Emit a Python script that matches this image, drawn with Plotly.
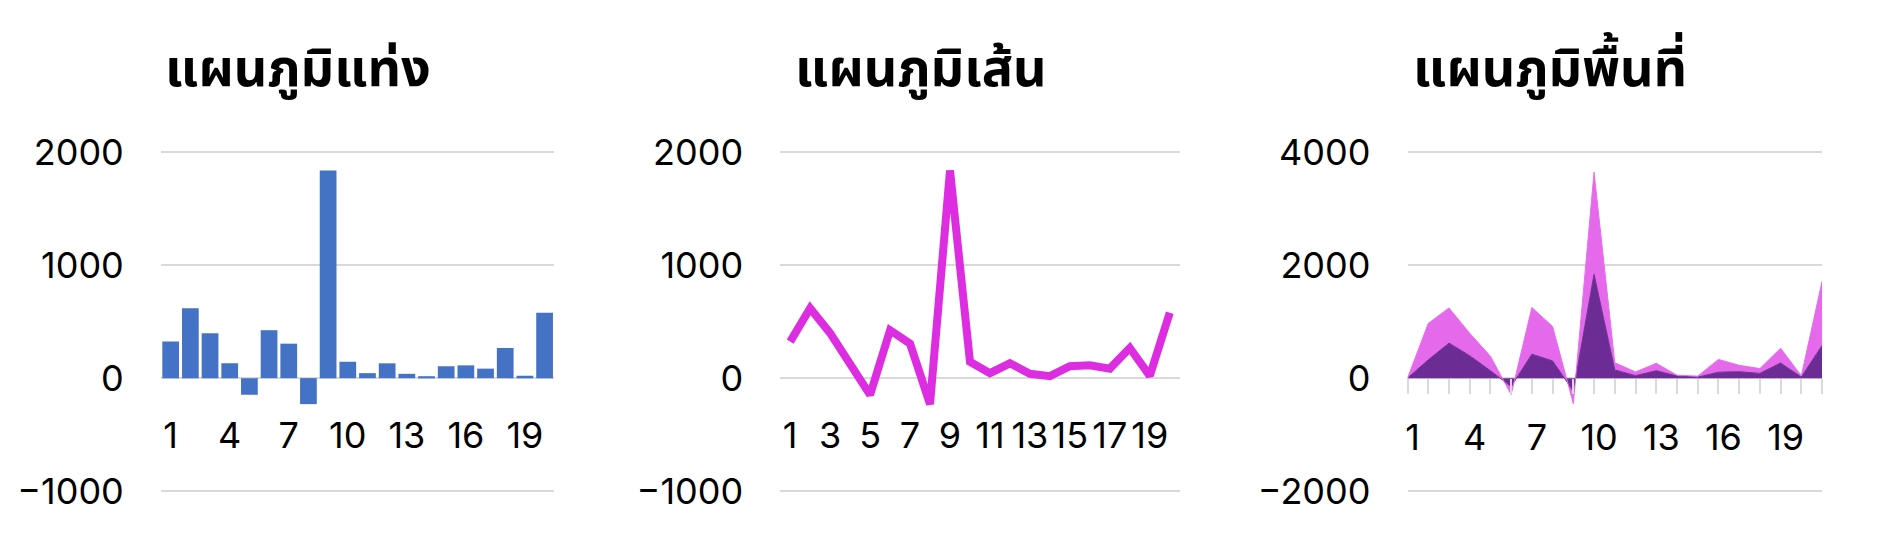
import plotly.graph_objects as go

# shared data of the bar and line charts
categories = list(range(1, 21))
values = [323, 619, 398, 131, -148, 424, 305, -230, 1837, 145,
          44, 131, 38, 17, 105, 113, 84, 267, 20, 578]

# area chart (stacked, 21 points)
area_x = list(range(1, 22))
area_dark = [0, 323, 619, 398, 131, -148, 424, 305, -230, 1837, 145,
             44, 131, 38, 17, 105, 113, 84, 267, 20, 578]
area_light = [0, 645, 623, 398, 258, -142, 826, 608, -223, 1808, 128,
              66, 131, 14, 18, 226, 114, 85, 262, 21, 1137]

titles = ["แผนภูมิแท่ง", "แผนภูมิเส้น", "แผนภูมิพื้นที่"]

bar_ticks = [1, 4, 7, 10, 13, 16, 19]
line_ticks = [1, 3, 5, 7, 9, 11, 13, 15, 17, 19]
area_ticktext = [str(v) if v in bar_ticks else "" for v in area_x]

W, H = 1880, 544
DX = -8   # page offset correction
tick_font = dict(family="Inter, Roboto, sans-serif", size=36, color="#000000")
grid_col = "#d9d9d9"
top_px, bot_px = 134.5, 499.0
zero_px = top_px + (bot_px - top_px) * 2 / 3
PADPX = 3.0
ydom = [1 - (bot_px + PADPX) / H, 1 - (top_px - PADPX) / H]
zero_pos = 1 - zero_px / H
XSTAND = 33

fig = go.Figure()

fig.add_trace(go.Bar(x=categories, y=values, marker_color="#4472C4",
                     marker_line_width=0, xaxis="x", yaxis="y"))
fig.add_trace(go.Scatter(x=categories, y=values, mode="lines",
                         line=dict(color="#DD2DE0", width=8),
                         xaxis="x2", yaxis="y2"))
fig.add_trace(go.Scatter(x=area_x, y=area_dark, mode="lines", stackgroup="a",
                         line=dict(color="#6B2D94", width=1),
                         fillcolor="#6B2D94", xaxis="x3", yaxis="y3"))
fig.add_trace(go.Scatter(x=area_x, y=area_light, mode="lines", stackgroup="a",
                         line=dict(color="#E66EEC", width=1),
                         fillcolor="#E46AEB", xaxis="x3", yaxis="y3"))

def xax(dom, rng, tickvals, ticktext=None, ticks=""):
    d = dict(domain=[(dom[0] + DX) / W, (dom[1] + DX) / W], range=rng,
             anchor="free", position=zero_pos, tickvals=tickvals,
             showgrid=False, zeroline=False, showline=False, tickfont=tick_font,
             ticks=ticks, ticklabelstandoff=XSTAND)
    if ticktext is not None:
        d["ticktext"] = ticktext
    return d

def yax(anchor, rng, dtick):
    pad = (rng[1] - rng[0]) * PADPX / (bot_px - top_px)
    return dict(domain=ydom, range=[rng[0] - pad, rng[1] + pad], dtick=dtick,
                anchor=anchor, showgrid=True, gridcolor=grid_col, gridwidth=2,
                zeroline=False, showline=False, tickfont=tick_font,
                ticklabelstandoff=36)

fig.update_layout(
    width=W, height=H,
    margin=dict(l=0, r=0, t=0, b=0),
    paper_bgcolor="white", plot_bgcolor="white",
    showlegend=False,
    bargap=0.15,
    xaxis=xax((159, 553), [0.5, 20.5], bar_ticks),
    xaxis2=xax((779, 1179), [0.5, 20.5], line_ticks),
    xaxis3=xax((1407, 1822), [1, 21], area_x, area_ticktext, ticks="outside"),
    yaxis=yax("x", [-1000, 2000], 1000),
    yaxis2=yax("x2", [-1000, 2000], 1000),
    yaxis3=yax("x3", [-2000, 4000], 2000),
)
fig.update_xaxes(selector=dict(anchor="free"), ticklen=15, tickwidth=2, tickcolor=grid_col)
fig.layout.xaxis3.ticklabelstandoff = XSTAND - 20
fig.layout.xaxis3.ticklabelshift = 5

title_x = [161, 792, 1410]
for t, tx in zip(titles, title_x):
    fig.add_annotation(text="<b>" + t + "</b>", x=(tx + DX) / W, y=1 - 46 / H,
                       xref="paper", yref="paper", xanchor="left", yanchor="middle",
                       showarrow=False,
                       font=dict(family="Noto Sans Thai, Noto Sans, sans-serif",
                                 size=52, color="#000000"))

fig.write_html("out.html")
